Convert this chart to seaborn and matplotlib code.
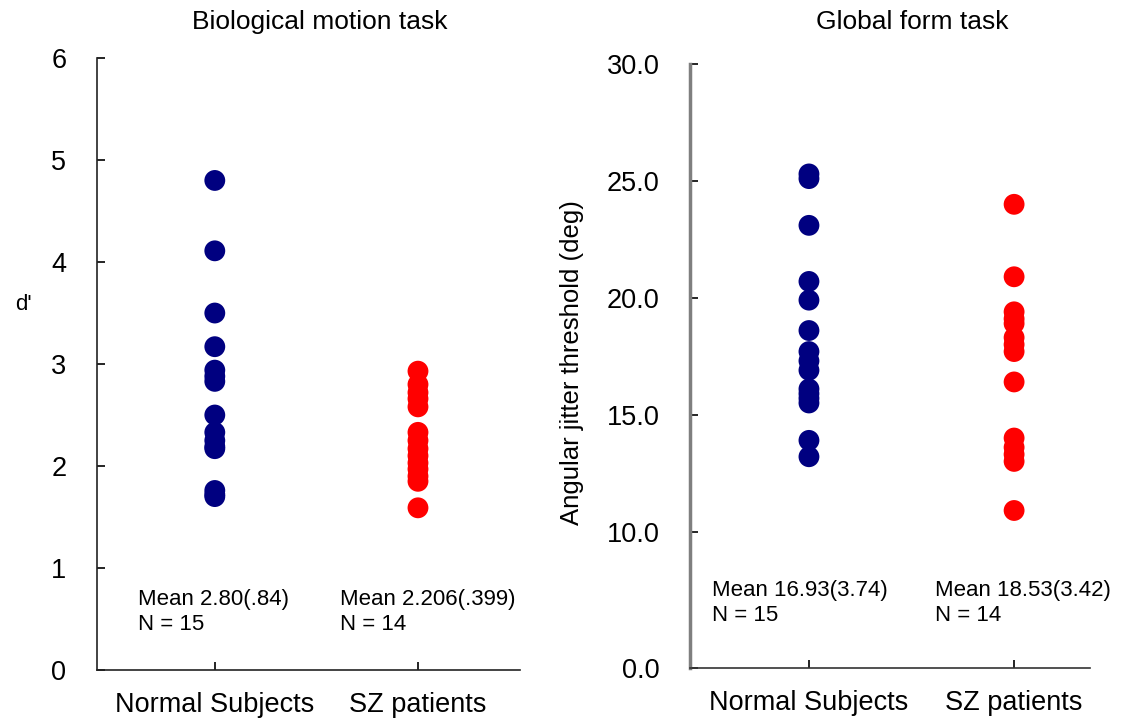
import matplotlib
matplotlib.use("Agg")
import matplotlib.pyplot as plt
import seaborn as sns
import pandas as pd

# categories / groups
groups = ["Normal Subjects", "SZ patients"]
colors = ["#000080", "#ff0000"]

# biological motion task, d'
bio_normal = [4.80, 4.11, 3.50, 3.17, 2.94, 2.88, 2.83, 2.50, 2.33, 2.25, 2.19, 2.17, 1.76, 1.72, 1.70]
bio_sz = [2.93, 2.80, 2.72, 2.66, 2.58, 2.33, 2.25, 2.17, 2.10, 2.03, 1.97, 1.90, 1.85, 1.59]

# global form task, angular jitter threshold (deg)
form_normal = [25.3, 25.1, 23.1, 20.7, 19.9, 18.6, 17.7, 17.3, 16.9, 16.1, 15.9, 15.7, 15.5, 13.9, 13.2]
form_sz = [24.0, 20.9, 19.4, 19.1, 18.9, 18.3, 18.0, 17.7, 16.4, 14.0, 13.6, 13.3, 13.0, 10.9]

# text boxes under the points
bio_notes = ["Mean 2.80(.84)\nN = 15", "Mean 2.206(.399)\nN = 14"]
form_notes = ["Mean 16.93(3.74)\nN = 15", "Mean 18.53(3.42)\nN = 14"]

bio_df = pd.DataFrame({"group": [groups[0]] * len(bio_normal) + [groups[1]] * len(bio_sz),
                       "value": bio_normal + bio_sz})
form_df = pd.DataFrame({"group": [groups[0]] * len(form_normal) + [groups[1]] * len(form_sz),
                        "value": form_normal + form_sz})

sns.set_style("white")
plt.rcParams['font.family'] = ['Liberation Sans', 'DejaVu Sans']
plt.rcParams['text.color'] = 'black'
plt.rcParams['axes.labelcolor'] = 'black'

fig = plt.figure(figsize=(11.3, 7.25), dpi=100)
ax1 = fig.add_axes([0.0858, 0.0759, 0.374, 0.844])
ax2 = fig.add_axes([0.6106, 0.0786, 0.354, 0.833])

for ax, df in [(ax1, bio_df), (ax2, form_df)]:
    sns.stripplot(data=df, x="group", y="value", hue="group", palette=colors,
                  jitter=False, size=15, linewidth=0, legend=False, ax=ax)
    ax.set_xlabel("")
    for side in ["top", "right"]:
        ax.spines[side].set_visible(False)
    ax.tick_params(axis="both", direction="in", length=6, width=1.2, colors="black",
                   left=True, bottom=True)
    ax.tick_params(axis="y", labelsize=19.5, pad=22)
    ax.tick_params(axis="x", labelsize=19.5, pad=16)

# left panel
ax1.set_ylim(0, 6)
ax1.set_yticks([0, 1, 2, 3, 4, 5, 6])
ax1.set_xlim(-0.58, 1.5)
ax1.set_ylabel("d'", rotation=0, fontsize=16)
ax1.yaxis.set_label_coords(-0.175, 0.58)
for sp in ["left", "bottom"]:
    ax1.spines[sp].set_color("#222222")
    ax1.spines[sp].set_linewidth(1.2)
ax1.text(0.097, 0.095, bio_notes[0], transform=ax1.transAxes, fontsize=16, va="center", linespacing=1.25)
ax1.text(0.574, 0.095, bio_notes[1], transform=ax1.transAxes, fontsize=16, va="center", linespacing=1.25)

# right panel (axis bottom labelled 0.0 as in the source figure)
ax2.set_ylim(4.16, 30)
ax2.set_yticks([4.16, 10, 15, 20, 25, 30])
ax2.set_yticklabels(["0.0", "10.0", "15.0", "20.0", "25.0", "30.0"])
ax2.set_xlim(-0.58, 1.37)
ax2.set_ylabel("Angular jitter threshold (deg)", fontsize=18.5)
ax2.yaxis.set_label_coords(-0.265, 0.505)
ax2.spines["left"].set_color("#7f7f7f")
ax2.spines["left"].set_linewidth(2.5)
ax2.spines["bottom"].set_color("#333333")
ax2.spines["bottom"].set_linewidth(1.2)
ax2.text(0.055, 0.107, form_notes[0], transform=ax2.transAxes, fontsize=16, va="center", linespacing=1.25)
ax2.text(0.6125, 0.107, form_notes[1], transform=ax2.transAxes, fontsize=16, va="center", linespacing=1.25)

fig.text(0.283, 0.970, "Biological motion task", fontsize=19, ha="center", va="center")
fig.text(0.807, 0.970, "Global form task", fontsize=19, ha="center", va="center")

fig.savefig("out.png", dpi=100)
